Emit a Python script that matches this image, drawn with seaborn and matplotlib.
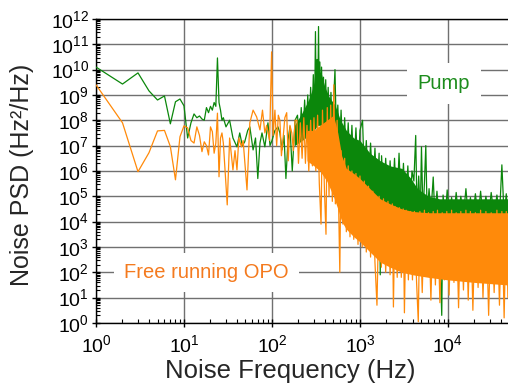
import numpy as np
import matplotlib
matplotlib.use('Agg')
import matplotlib.pyplot as plt
import seaborn as sns
from matplotlib.ticker import LogLocator, NullFormatter, FixedLocator

# values are log10 of the PSD (Hz^2/Hz)
pump_freq = [1, 2, 3, 4, 5, 6, 7, 8, 9, 10, 11, 12, 13, 14, 15, 16, 17, 18, 19, 20,
             21, 22, 23, 24, 25, 26, 27, 28, 30, 33, 36, 40, 43, 46, 49, 53, 56, 61, 65, 69,
             73, 77, 83, 90, 95, 100, 108, 117, 123, 130, 137, 144, 152, 160, 170, 183,
             195, 205, 215, 225, 235, 245, 255, 265, 275, 285, 295, 305, 312, 318, 325, 332,
             338, 344, 350, 358, 366, 375, 385, 395, 408, 420, 435, 450, 468, 485, 505, 520,
             540, 560, 585, 610, 640, 670, 700, 735, 770, 810, 850, 900, 950, 1000, 1070, 1120,
             1180, 1250, 1320, 1400, 1480, 1560, 1650, 1700, 1760, 1860, 1960, 2080, 2200, 2330,
             2470, 2620, 2780, 2950, 3120, 3300, 3500, 3700, 3900, 4100, 4300, 4450, 4650, 4850,
             5000, 5200, 5400, 5600, 5800, 6100, 6400, 6800, 7100, 7500, 7900, 8500, 8800, 9300,
             9800, 10400, 11000, 11700, 12400, 13200, 14000, 15000, 16000, 17000, 18000, 19200,
             20500, 22000, 23500, 25000, 27000, 29000, 31000, 33500, 36000, 38500, 41000, 43500,
             46000, 48000]
pump_log = [10.1, 9.43, 9.87, 9.16, 8.8, 8.96, 7.86, 8.73, 8.84, 8.57, 7.3, 7.9, 8.25, 8.1, 8.17, 8.05, 8.0, 8.5, 8.3, 8.55,
            8.4, 8.7, 8.55, 10.46, 8.7, 8.4, 8.0, 8.1, 7.74, 8.0, 7.3, 6.95, 7.5, 7.0, 7.15, 7.6, 7.74, 6.83, 7.3, 5.7,
            7.1, 7.5, 6.95, 7.9, 7.0, 7.2, 7.6, 7.74, 7.5, 6.83, 7.4, 5.7, 7.2, 7.74, 6.0, 8.0,
            8.2, 7.1, 8.5, 7.3, 8.8, 7.5, 9.0, 7.6, 9.3, 8.0, 9.8, 8.2, 11.5, 8.6, 10.4, 8.8,
            11.7, 9.0, 10.3, 8.5, 10.1, 8.3, 9.7, 8.0, 9.6, 7.7, 9.3, 7.6, 9.1, 7.4, 9.0, 10.0,
            7.2, 8.6, 6.8, 8.4, 6.6, 8.1, 6.3, 7.9, 6.2, 7.8, 6.0, 7.7, 5.9, 7.6, 8.0, 5.8,
            7.2, 5.5, 7.1, 5.2, 6.9, 5.0, 6.7, 1.9, 6.6, 4.8, 6.5, 4.7, 6.4, 4.6,
            6.5, 4.5, 6.7, 4.5, 6.3, 4.4, 6.2, 4.4, 6.0, 5.6, 7.4, 4.4, 5.8, 4.3,
            6.95, 4.3, 5.5, 7.0, 4.3, 5.3, 4.3, 5.76, 4.2, 5.2, 4.2, 0.3, 5.05, 4.2,
            5.25, 4.2, 4.95, 4.2, 5.15, 4.2, 5.0, 4.2, 5.3, 4.2, 4.95, 4.2,
            5.1, 4.2, 5.2, 4.2, 5.0, 4.2, 5.15, 4.2, 5.05, 4.2, 6.24, 4.2,
            5.1, 4.2]

opo_freq = [1, 2, 3, 4, 5, 6, 7, 8, 9, 10, 11, 12, 13, 14, 15, 16, 17, 18, 19, 20,
            21, 22, 23, 24, 25, 26, 27, 28, 31, 33, 36, 38, 40, 42, 45, 47, 52, 56, 61, 67,
            73, 78, 83, 87, 94, 99, 103, 108, 113, 118, 123, 128, 133, 140, 147, 153, 160, 168,
            175, 183, 192, 200, 210, 220, 230, 240, 250, 262, 275, 288, 300, 315, 330, 345,
            361, 375, 395, 411, 425, 445, 465, 485, 505, 525, 550, 575, 590, 610, 640, 670,
            700, 735, 770, 810, 850, 900, 950, 1000, 1060, 1120, 1180, 1250, 1320, 1400, 1480, 1560,
            1650, 1750, 1850, 1960, 2080, 2200, 2330, 2400, 2500, 2650, 2800, 2950, 3100, 3200,
            3350, 3550, 3750, 3950, 4150, 4400, 4600, 4800, 5100, 5400, 5700, 6000, 6400, 6800,
            7200, 7600, 8100, 8600, 9100, 9700, 10300, 11000, 11700, 12400, 13200, 14000, 15000, 16000,
            17000, 18000, 19200, 20500, 22000, 23500, 25000, 27000, 29000, 31000, 33500, 36000, 38500, 41000,
            43500, 46000, 48000]
opo_log = [9.4, 7.9, 5.97, 6.72, 7.58, 7.6, 6.96, 5.65, 7.35, 7.78, 7.7, 7.2, 7.1, 7.74, 7.4, 6.76, 7.15, 7.0, 6.63, 7.74,
           7.55, 6.7, 7.1, 8.28, 5.77, 7.3, 7.5, 7.1, 4.66, 7.3, 6.04, 6.8, 6.04, 7.3, 6.95, 7.2, 5.25, 7.9, 8.4, 8.13,
           7.62, 8.4, 7.5, 7.8, 7.2, 10.7, 7.4, 8.4, 7.0, 8.2, 8.0, 6.6, 7.2, 8.1, 8.3, 6.4, 7.8, 7.5,
           6.8, 8.0, 8.0, 6.3, 7.9, 6.5, 8.1, 6.3, 7.8, 6.0, 8.0, 6.2, 8.1, 6.0, 8.2, 5.5,
           3.9, 8.4, 5.2, 3.5, 8.5, 5.0, 8.6, 4.8, 9.4, 4.7, 8.0, 4.2, 2.0, 6.8, 3.9, 6.5,
           3.6, 6.2, 3.4, 6.0, 3.3, 5.9, 3.1, 5.8, 3.0, 5.6, 2.8, 5.4, 2.6, 5.2, 2.4, 0.7,
           5.0, 2.2, 4.9, 2.0, 4.8, 1.9, 4.7, 0.63, 4.6, 1.8, 4.55, 1.8, 4.5, 0.4,
           4.45, 1.7, 4.4, 1.7, 4.4, 1.6, 0.05, 4.4, 1.2, 4.45, 1.9, 4.35, 0.9, 4.4,
           1.5, 4.45, 0.8, 4.35, 1.7, 4.4, 1.1, 4.45, 1.6, 4.35, 0.6, 4.4, 1.3, 4.45,
           0.9, 4.4, 0.5, 4.35, 1.4, 4.45, 1.0, 4.4, 0.3, 4.35, 1.2, 4.45, 0.7, 4.4,
           0.2, 4.4, 1.0]

# dense parts of the spectra: upper / lower edge of the filled band
pump_band_freq = [180, 220, 260, 300, 330, 360, 400, 450, 520, 600, 700, 850, 1000, 1300, 1700,
                  2200, 3000, 3800, 4500, 6000, 8000, 12000, 20000, 30000, 48000]
pump_band_hi = [7.8, 8.3, 8.8, 9.4, 9.9, 9.9, 9.3, 8.9, 8.6, 8.0, 7.6, 7.3, 7.2, 6.7, 6.4,
                6.2, 6.1, 5.7, 5.3, 5.0, 4.9, 4.9, 4.9, 4.9, 4.9]
pump_band_lo = [7.0, 7.2, 7.4, 7.6, 7.8, 7.8, 7.5, 7.0, 6.6, 6.2, 5.9, 5.7, 5.5, 5.0, 4.7,
                4.5, 4.4, 4.3, 4.3, 4.3, 4.3, 4.3, 4.3, 4.3, 4.3]
opo_band_freq = [250, 300, 350, 420, 500, 560, 620, 700, 850, 1000, 1300, 1700, 2200, 3000,
                 4000, 6000, 10000, 20000, 48000]
opo_band_hi = [7.6, 7.6, 7.8, 8.0, 8.2, 7.5, 6.6, 6.1, 5.9, 5.7, 5.3, 4.9, 4.7, 4.5,
               4.4, 4.35, 4.35, 4.35, 4.35]
opo_band_lo = [6.4, 6.2, 6.0, 5.6, 5.0, 4.5, 4.0, 3.7, 3.4, 3.2, 2.8, 2.4, 2.2, 2.0,
               1.9, 1.8, 1.7, 1.6, 1.5]

x_major = [1, 10, 100, 1000, 10000]

pump_color = '#0b870b'
opo_color = '#ff8a0a'

sns.set_style('ticks')
plt.rcParams['font.family'] = ['Liberation Sans', 'DejaVu Sans']
plt.rcParams['mathtext.fontset'] = 'custom'
plt.rcParams['mathtext.rm'] = 'Liberation Sans'
plt.rcParams['mathtext.it'] = 'Liberation Sans:italic'
plt.rcParams['mathtext.bf'] = 'Liberation Sans:bold'

fig = plt.figure(figsize=(5.08, 3.84), dpi=100)
ax = fig.add_axes([0.189, 0.159, 0.866, 0.7917])

ax.fill_between(pump_band_freq, 10.0 ** np.array(pump_band_lo), 10.0 ** np.array(pump_band_hi),
                color=pump_color, lw=0, zorder=2)
sns.lineplot(x=pump_freq, y=10.0 ** np.array(pump_log), color=pump_color, lw=0.9,
             estimator=None, sort=False, legend=False, ax=ax, zorder=3)
ax.fill_between(opo_band_freq, 10.0 ** np.array(opo_band_lo), 10.0 ** np.array(opo_band_hi),
                color=opo_color, lw=0, zorder=4)
sns.lineplot(x=opo_freq, y=10.0 ** np.array(opo_log), color=opo_color, lw=0.9,
             estimator=None, sort=False, legend=False, ax=ax, zorder=5)

ax.set_xscale('log')
ax.set_yscale('log')
ax.set_xlim(1, 1e5)
ax.set_ylim(1, 1e12)
ax.xaxis.set_major_locator(FixedLocator(x_major))
ax.yaxis.set_major_locator(LogLocator(base=10, numticks=20))
ax.xaxis.set_minor_locator(LogLocator(base=10, subs=np.arange(2, 10), numticks=20))
ax.yaxis.set_minor_locator(LogLocator(base=10, subs=np.arange(2, 10), numticks=20))
ax.xaxis.set_minor_formatter(NullFormatter())
ax.yaxis.set_minor_formatter(NullFormatter())

ax.grid(True, which='major', color='#707070', lw=1)
ax.set_axisbelow(True)
for s in ax.spines.values():
    s.set_color('black')
    s.set_linewidth(1)
ax.tick_params(which='major', direction='inout', length=6, width=1, labelsize=14,
               colors='black', pad=2)
ax.tick_params(axis='x', which='major', pad=5)
ax.tick_params(which='minor', direction='in', length=3, width=0.8, colors='black')

ax.set_xlabel('Noise Frequency (Hz)', fontsize=18.5)
ax.set_ylabel('Noise PSD (Hz²/Hz)', fontsize=18)
ax.xaxis.set_label_coords(0.441, -0.12)
ax.yaxis.set_label_coords(-0.14, 0.487)

ax.text(9000, 10 ** 9.45, 'Pump', color='#1c8c1c', fontsize=14.5, ha='center', va='center',
        zorder=6, bbox=dict(boxstyle='square,pad=0.55', facecolor='white', edgecolor='none'))
ax.text(18, 10 ** 2.0, 'Free running OPO', color='#f47a1e', fontsize=14.5, ha='center',
        va='center', zorder=6,
        bbox=dict(boxstyle='square,pad=0.5', facecolor='white', edgecolor='none'))

fig.savefig('out.png', dpi=100)
